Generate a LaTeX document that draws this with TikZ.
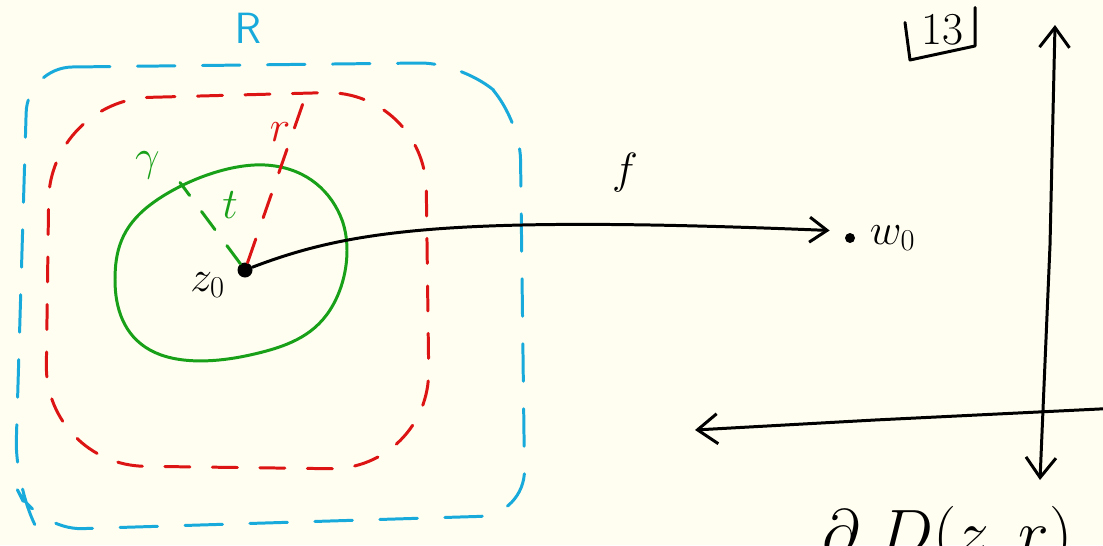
\documentclass[tikz,border=0pt]{standalone}
\usepackage{amsmath}
\usepackage{graphicx}
\usepackage{xcolor}
\usetikzlibrary{arrows.meta,positioning,calc}

\definecolor{paper}{RGB}{255,254,240}
\definecolor{penblue}{RGB}{25,170,220}
\definecolor{penred}{RGB}{220,20,20}
\definecolor{pengreen}{RGB}{25,160,25}

\begin{document}
\begin{tikzpicture}[
  ink/.style={line width=1.7pt, line cap=round, line join=round},
  bluedash/.style={ink, penblue, dash pattern=on 0.75cm off 0.55cm},
  reddash/.style={ink, penred, dash pattern=on 0.5cm off 0.45cm},
  greendash/.style={ink, pengreen, dash pattern=on 0.45cm off 0.4cm},
  dot/.style={circle, fill=black, inner sep=0pt},
  lbl/.style={font=\fontsize{26}{28}\selectfont, inner sep=1pt},
  map/.style={ink, -{Straight Barb[length=3.5mm, width=5mm]}},
  axis/.style={ink, {Straight Barb[length=4mm, width=6mm]}-{Straight Barb[length=4mm, width=6mm]}},
]
  % --- page -----------------------------------------------------------
  \fill[paper] (0,0) rectangle (22.06,10.9);
  \useasboundingbox (0,0) rectangle (22.06,10.9);
  \clip (0,0) rectangle (22.06,10.9);

  % --- the square R and the red square of radius r ---------------------
  \draw[bluedash, rounded corners=0.9cm] (0.55,9.55) -- (9.3,9.65) -- (10.4,8.6)
    -- (10.5,0.6) -- (0.75,0.3) -- (0.3,1.2) -- cycle;
  \node[lbl, text=penblue] (rlab) at (4.96,10.33) {$\mathsf{R}$};
  \draw[reddash, rounded corners=2cm] (1.0,8.9) -- (8.5,9.1) -- (8.6,1.5)
    -- (0.9,1.6) -- cycle;

  % --- the centre and the curve gamma ---------------------------------
  \node[dot, minimum size=0.3cm] (z0) at (4.9,5.5) {};
  \node[lbl, left=0.2cm of z0, yshift=-0.3cm] (z0lab) {$z_0$};
  \draw[ink, pengreen] plot[smooth cycle, tension=0.7] coordinates
    {(2.3,5.3) (3.0,6.8) (5.3,7.6) (6.8,6.6) (6.6,4.7) (5.0,3.8) (3.0,3.9)};
  \node[lbl, text=pengreen] (gam) at (2.95,7.6) {$\gamma$};

  % --- radii t and r --------------------------------------------------
  \coordinate (tend) at (3.6,7.25);
  \coordinate (rend) at (6.1,8.95);
  \draw[greendash] (z0) -- (tend);
  \node[lbl, text=pengreen] (tlab) at (4.6,6.8) {$t$};
  \draw[reddash] (z0) -- (rend);
  \node[lbl, text=penred] (rlab2) at (5.6,8.25) {$r$};

  % --- the map f -------------------------------------------------------
  \node[dot, minimum size=0.2cm] (w0) at (17.0,6.14) {};
  \node[lbl, right=0.25cm of w0] (w0lab) {$w_0$};
  \draw[map] (z0) .. controls (7.0,6.3) and (9.0,6.6) .. ([xshift=-0.3cm,yshift=0.15cm]w0.west);
  \node[lbl] (flab) at (12.5,7.45) {$f$};

  % --- the axes of the w-plane -----------------------------------------
  \coordinate (vtop) at (21.1,10.4);
  \coordinate (vbot) at (20.8,1.3);
  \draw[axis] (vbot) -- (21.0,6.0) -- (vtop);
  \coordinate (hleft) at (13.9,2.3);
  \coordinate (hright) at (22.6,2.75);
  \draw[ink, -{Straight Barb[length=4mm, width=6mm]}] (hright) -- (17.5,2.5) -- (hleft);

  % --- page number -----------------------------------------------------
  \node[lbl] (page) at (18.85,10.3) {13};
  \draw[ink] (18.1,10.45) -- (18.2,9.7) -- (19.5,9.98) -- (19.5,10.75);

  % --- caption cut off at the bottom -----------------------------------
  \node[font=\fontsize{25}{26}\selectfont, anchor=base] (cap) at (18.95,-0.2)
    {\scalebox{1.5}{$\partial\;D(z,r)$}};
\end{tikzpicture}
\end{document}
